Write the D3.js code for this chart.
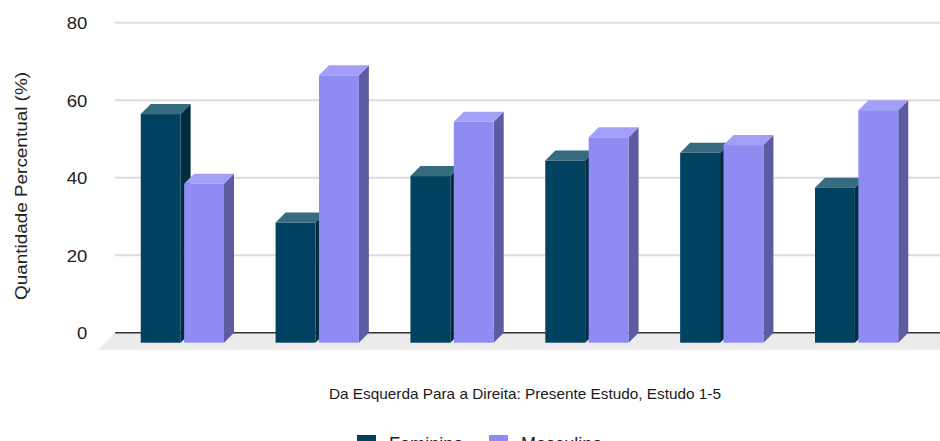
<!DOCTYPE html>
<html>
<head>
<meta charset="utf-8">
<script src="https://cdn.jsdelivr.net/npm/d3@7"></script>
<style>
  html, body { margin: 0; padding: 0; background: #fff; }
  svg { display: block; font-family: "Liberation Sans", Arial, sans-serif; }
</style>
</head>
<body>
<svg id="chart" width="940" height="441"></svg>
<script>
// Data
const categories = ["Presente Estudo", "Estudo 1", "Estudo 2", "Estudo 3", "Estudo 4", "Estudo 5"];
const seriesNames = ["Feminino", "Masculino"];
const feminino = [59, 31, 43, 47, 49, 40];
const masculino = [41, 69, 57, 53, 51, 60];
const yTicks = [0, 20, 40, 60, 80];

const yTitle = "Quantidade Percentual (%)";
const xTitle = "Da Esquerda Para a Direita: Presente Estudo, Estudo 1-5";

// Face colours per series: front, top, side
const palette = {
  Feminino:  { front: "#00425f", top: "#376b80", side: "#002c3f" },
  Masculino: { front: "#8e8cf2", top: "#a19ff6", side: "#5d5ca1" }
};

const svg = d3.select("#chart");

// 3D depth offset of the back wall relative to the front plane
const depth = 10;
const floorDepth = 17;

// Back wall geometry (where gridlines live)
const backLeft = 115, backRight = 940;
const y = d3.scaleLinear().domain([0, 80]).range([332.7, 22.7]);

// Category positions measured on the front plane
const x = d3.scaleBand()
  .domain(categories)
  .range([105, 934])
  .paddingInner(0.3825)
  .paddingOuter(0.265);

const xs = d3.scaleBand()
  .domain(seriesNames)
  .range([0, x.bandwidth()])
  .paddingInner(0.08);

// Floor
const y0 = y(0);
svg.append("path")
  .attr("d", `M${backLeft},${y0} L${backRight},${y0} L${backRight},${y0 + floorDepth} L${backLeft - floorDepth},${y0 + floorDepth} Z`)
  .attr("fill", "#ebebeb");

// Gridlines on the back wall
svg.append("g")
  .selectAll("line")
  .data(yTicks.filter(d => d !== 0))
  .join("line")
  .attr("x1", backLeft).attr("x2", backRight)
  .attr("y1", d => y(d)).attr("y2", d => y(d))
  .attr("stroke", "#dcdcdc")
  .attr("stroke-width", 2);

// Baseline
svg.append("line")
  .attr("x1", backLeft).attr("x2", backRight)
  .attr("y1", y0).attr("y2", y0)
  .attr("stroke", "#333")
  .attr("stroke-width", 1.5);

// Y axis tick labels
const yAxis = d3.axisLeft(y).tickValues(yTicks).tickSize(0).tickPadding(0);
const yAxisG = svg.append("g")
  .attr("transform", `translate(87.3,0)`)
  .call(yAxis);
yAxisG.select(".domain").remove();
yAxisG.selectAll("text")
  .attr("font-size", 17)
  .attr("font-family", "Liberation Sans, Arial, sans-serif")
  .attr("fill", "#222")
  .attr("dy", "0.36em")
  .attr("textLength", d => String(d).length === 1 ? 10.3 : 20.6)
  .attr("lengthAdjust", "spacingAndGlyphs");

// Y axis title
svg.append("text")
  .attr("transform", `translate(26.7,186) rotate(-90)`)
  .attr("text-anchor", "middle")
  .attr("font-size", 16)
  .attr("fill", "#222")
  .attr("textLength", 228)
  .attr("lengthAdjust", "spacingAndGlyphs")
  .text(yTitle);

// Bars (front plane baseline sits one depth step below the wall baseline)
const frontBase = y0 + depth;
const rows = categories.map((c, i) => ({ cat: c, values: [
  { s: "Feminino", v: feminino[i] },
  { s: "Masculino", v: masculino[i] }
]}));

const groups = svg.append("g").selectAll("g")
  .data(rows)
  .join("g")
  .attr("transform", d => `translate(${x(d.cat)},0)`);

groups.each(function(row) {
  const g = d3.select(this);
  row.values.forEach(d => {
    const bx = xs(d.s);
    const w = xs.bandwidth();
    const top = y(d.v) + depth;
    const c = palette[d.s];
    // right side
    g.append("path")
      .attr("d", `M${bx + w},${top} L${bx + w + depth},${top - depth} L${bx + w + depth},${frontBase - depth} L${bx + w},${frontBase} Z`)
      .attr("fill", c.side);
    // top
    g.append("path")
      .attr("d", `M${bx},${top} L${bx + depth},${top - depth} L${bx + w + depth},${top - depth} L${bx + w},${top} Z`)
      .attr("fill", c.top);
    // front
    g.append("rect")
      .attr("x", bx).attr("y", top)
      .attr("width", w).attr("height", frontBase - top)
      .attr("fill", c.front);
  });
});

// X axis title
svg.append("text")
  .attr("x", 525).attr("y", 399.3)
  .attr("text-anchor", "middle")
  .attr("font-size", 14.5)
  .attr("fill", "#1a1a1a")
  .attr("textLength", 392)
  .attr("lengthAdjust", "spacingAndGlyphs")
  .text(xTitle);

// Legend
const legend = svg.append("g");
const legendItems = [
  { name: "Feminino", x: 357, len: 74.3 },
  { name: "Masculino", x: 489, len: 81.3 }
];
legendItems.forEach(it => {
  legend.append("rect")
    .attr("x", it.x).attr("y", 435)
    .attr("width", 19).attr("height", 19)
    .attr("fill", palette[it.name].front);
  legend.append("text")
    .attr("x", it.x + 32).attr("y", 450)
    .attr("font-size", 18)
    .attr("fill", "#222")
    .attr("textLength", it.len)
    .attr("lengthAdjust", "spacingAndGlyphs")
    .text(it.name);
});
</script>
</body>
</html>
